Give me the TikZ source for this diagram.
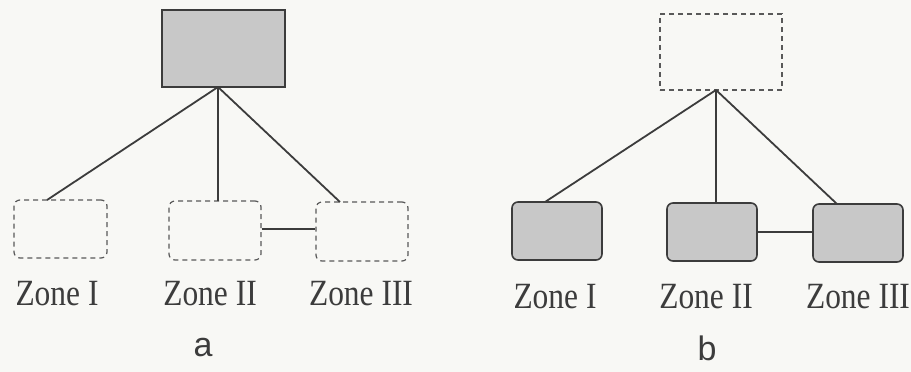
\documentclass[tikz,border=0pt]{standalone}
\usepackage{fontspec}
\setmainfont{Liberation Serif}
\newfontfamily\labfont{Liberation Sans}
\definecolor{ink}{HTML}{3C3C3C}
\definecolor{boxfill}{HTML}{C8C8C8}
\definecolor{paper}{HTML}{F8F8F5}
\newcommand{\zt}[1]{\scalebox{0.85}[1]{#1}}
\begin{document}
\begin{tikzpicture}[x=1pt,y=-1pt,
  solidbox/.style={draw=ink,line width=1.6pt,fill=boxfill},
  dashbox/.style={draw=ink!85,line width=1.2pt,dash pattern=on 5pt off 4pt},
  zonesolid/.style={solidbox,rounded corners=6pt},
  zonedash/.style={dashbox,rounded corners=6pt},
  conn/.style={draw=ink,line width=1.8pt},
  zlab/.style={font=\fontsize{37}{37}\selectfont,text=ink,inner sep=0pt},
  panlab/.style={font=\labfont\fontsize{34}{34}\selectfont,text=ink,inner sep=0pt}]
\fill[paper] (0,0) rectangle (911,372);
\useasboundingbox (0,0) rectangle (911,372);
% panel a
\node[solidbox,minimum width=123pt,minimum height=77pt,inner sep=0pt] (atop) at (223.5,48.5) {};
\node[zonedash,minimum width=93pt,minimum height=58pt,inner sep=0pt] (a1) at (60.5,229) {};
\node[zonedash,minimum width=92pt,minimum height=59pt,inner sep=0pt] (a2) at (215,230.5) {};
\node[zonedash,minimum width=92pt,minimum height=59pt,inner sep=0pt] (a3) at (362,231.5) {};
\coordinate (aapex) at (218,87);
\coordinate (a1t) at (47,200);
\coordinate (a2t) at (218,201);
\coordinate (a3t) at (340,202);
\draw[conn] (aapex) -- (a1t);
\draw[conn] (aapex) -- (a2t);
\draw[conn] (aapex) -- (a3t);
\draw[conn] (a2.east |- 0,229) -- (a3.west |- 0,229);
\node[zlab] (la1) at (57,294) {\zt{Zone I}};
\node[zlab] (la2) at (210,294) {\zt{Zone II}};
\node[zlab] (la3) at (361,294) {\zt{Zone III}};
\node[panlab] (pa) at (203,348) {a};
% panel b
\node[dashbox,minimum width=122pt,minimum height=76pt,inner sep=0pt] (btop) at (721,52) {};
\node[zonesolid,minimum width=90pt,minimum height=58pt,inner sep=0pt] (b1) at (557,231) {};
\node[zonesolid,minimum width=90pt,minimum height=58pt,inner sep=0pt] (b2) at (712,232) {};
\node[zonesolid,minimum width=90pt,minimum height=58pt,inner sep=0pt] (b3) at (858,233) {};
\coordinate (bapex) at (716,90);
\coordinate (b1t) at (545,202);
\coordinate (b2t) at (716,203);
\coordinate (b3t) at (837,204);
\draw[conn] (bapex) -- (b1t);
\draw[conn] (bapex) -- (b2t);
\draw[conn] (bapex) -- (b3t);
\draw[conn] (b2.east |- 0,232) -- (b3.west |- 0,232);
\node[zlab] (lb1) at (555,297) {\zt{Zone I}};
\node[zlab] (lb2) at (706,297) {\zt{Zone II}};
\node[zlab] (lb3) at (858,297) {\zt{Zone III}};
\node[panlab] (pb) at (707,348) {b};
\end{tikzpicture}
\end{document}
